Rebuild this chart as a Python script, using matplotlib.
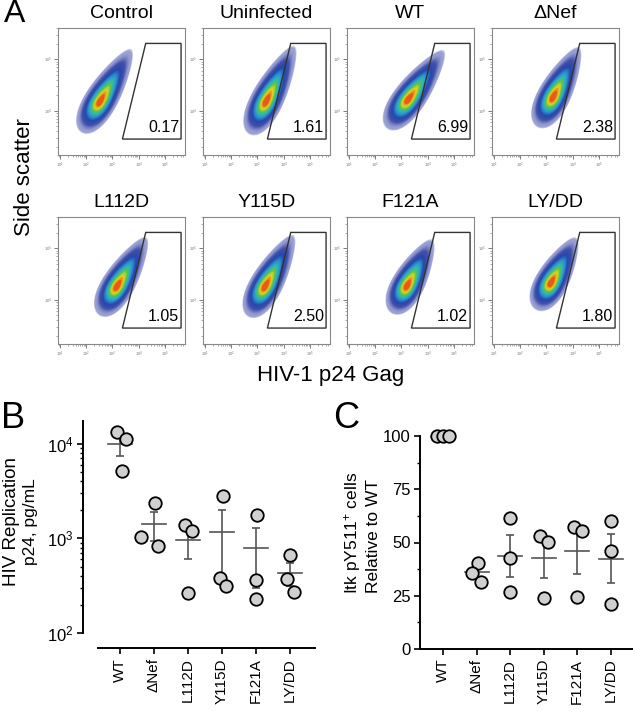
import numpy as np
import matplotlib
matplotlib.use("Agg")
import matplotlib.pyplot as plt
from matplotlib.patches import Polygon
from matplotlib.colors import LinearSegmentedColormap
from matplotlib.ticker import FixedLocator, NullFormatter, LogLocator, MultipleLocator

plt.rcParams['font.family'] = ['Liberation Sans', 'DejaVu Sans']
plt.rcParams['mathtext.default'] = 'regular'

W, H = 633, 716

# ---- panel A: flow cytometry ----
flow_names = ['Control', 'Uninfected', 'WT', '\u0394Nef', 'L112D', 'Y115D', 'F121A', 'LY/DD']
flow_pct = ['0.17', '1.61', '6.99', '2.38', '1.05', '2.50', '1.02', '1.80']
# densest point of each cloud (log10 p24, log10 side scatter)
core_x = [2.50, 3.31, 3.23, 3.23, 3.15, 3.27, 3.19, 3.15]
core_y = [4.16, 4.16, 4.20, 4.24, 4.24, 4.24, 4.25, 4.31]
# upper-right tip of each cloud
tip_x = [3.65, 4.35, 4.54, 4.19, 4.23, 4.31, 4.12, 4.08]
tip_y = [5.14, 5.20, 5.12, 5.18, 5.16, 5.20, 5.12, 5.16]
gate_x = [4.27, 5.62, 5.62, 3.38]
gate_y = [5.31, 5.31, 3.45, 3.45]

# ---- panel B / C ----
groups = ['WT', '\u0394Nef', 'L112D', 'Y115D', 'F121A', 'LY/DD']
p24 = [[13200, 11270, 5180],
       [2390, 1040, 840],
       [1384, 1199, 265],
       [2804, 385, 316],
       [1786, 365, 230],
       [662, 371, 270]]
itk = [[100, 100, 100],
       [40.6, 35.9, 31.4],
       [61.4, 42.9, 26.9],
       [53.2, 50.4, 24.1],
       [57.4, 55.4, 24.6],
       [60.2, 46.1, 21.1]]
spread_b = [[-0.08, 0.18, 0.06], [0.02, -0.37, 0.13], [-0.08, 0.12, 0.01],
            [0.04, -0.06, 0.12], [0.02, 0.0, 0.0], [0.0, -0.08, 0.13]]
spread_c = [[-0.18, 0.0, 0.17], [0.04, -0.13, 0.12], [0.0, 0.0, 0.0],
            [-0.12, 0.12, 0.0], [-0.1, 0.15, 0.0], [0.0, 0.0, 0.0]]

fig = plt.figure(figsize=(W / 100, H / 100), dpi=100)


def box(left, top, w, h):
    return [left / W, 1 - (top + h) / H, w / W, h / H]


flow_left = [[58, 203, 347, 492], [58, 203, 347, 492]]
flow_top = [28, 217]
dens = LinearSegmentedColormap.from_list('dens', [
    (0.0, '#9aa0d4'), (0.12, '#4150a8'), (0.28, '#2646ad'), (0.42, '#2a8ccf'),
    (0.56, '#2fb8b8'), (0.68, '#5cbf48'), (0.8, '#d8e022'), (0.9, '#f08a18'),
    (1.0, '#e02010')])

for i, name in enumerate(flow_names):
    r, c = divmod(i, 4)
    ax = fig.add_axes(box(flow_left[r][c], flow_top[r], 127, 127))
    ax.set_xlim(0.92, 5.77)
    ax.set_ylim(3.14, 5.61)
    for s in ax.spines.values():
        s.set_color('#888888')
        s.set_linewidth(0.8)
    ax.set_xticks([1, 2, 3, 4, 5])
    ax.set_yticks([4, 5])
    minor = [d + np.log10(k) for d in range(0, 6) for k in range(2, 10)]
    ax.xaxis.set_minor_locator(FixedLocator(minor))
    ax.yaxis.set_minor_locator(FixedLocator(minor))
    ax.set_xticklabels(['$10^{%d}$' % d for d in [1, 2, 3, 4, 5]], fontsize=3, color='#777777')
    ax.set_yticklabels(['$10^{4}$', '$10^{5}$'], fontsize=3, color='#777777')
    ax.tick_params(which='major', length=3, width=0.6, color='#666666', pad=1)
    ax.tick_params(which='minor', length=1.5, width=0.5, color='#888888')
    ax.set_title(name, fontsize=14, pad=7.5)

    # density cloud as nested egg shapes, built in display space then mapped back to data
    tr = ax.transData
    core = tr.transform((core_x[i], core_y[i]))
    tip = tr.transform((tip_x[i], tip_y[i]))
    d = tip - core
    L = np.hypot(*d)
    ang = np.arctan2(d[1], d[0])
    u = np.array([np.cos(ang), np.sin(ang)])
    v = np.array([-np.sin(ang), np.cos(ang)])
    c0 = core + 0.22 * d
    th = np.linspace(0, 2 * np.pi, 90)
    taper = 1 - 0.32 * np.cos(th)
    n = 26
    for k in range(n):
        s = 1.08 - k * (1.0 / (n - 1))
        f = s ** 0.6
        cen = core + (c0 - core) * f
        a = 0.78 * L * s ** 0.75
        b = 15.0 * s ** 0.7
        pts = cen + np.outer(a * np.cos(th), u) + np.outer(b * np.sin(th) * taper, v)
        pts = tr.inverted().transform(pts)
        t = min(1.0, max(0.0, 1.0 - s) ** 1.6 * 1.08)
        alpha = 0.6 if k == 0 else 1.0
        ax.add_patch(Polygon(pts, closed=True, facecolor=dens(t), edgecolor='none', alpha=alpha))

    ax.add_patch(Polygon(np.column_stack([gate_x, gate_y]), closed=True, fill=False,
                         edgecolor='#333333', lw=1.0))
    ax.text(5.55, 3.52, flow_pct[i], fontsize=11.5, ha='right', va='bottom')

fig.text(15 / W, 1 - 14 / H, 'A', fontsize=23, ha='center', va='center')
fig.text(25 / W, 1 - 177 / H, 'Side scatter', fontsize=16, rotation=90, ha='center', va='center')
fig.text(331 / W, 1 - 376 / H, 'HIV-1 p24 Gag', fontsize=16, ha='center', va='center')


def dot_panel(ax, values, spread):
    for g, vals in enumerate(values):
        vals = np.array(vals, dtype=float)
        m = vals.mean()
        sem = vals.std(ddof=1) / np.sqrt(len(vals))
        ax.plot([g - 0.36, g + 0.36], [m, m], color='#555555', lw=1.2, zorder=2)
        if sem > 0:
            ax.errorbar(g, m, yerr=sem, color='#555555', lw=1.2, capsize=3, capthick=1.2, zorder=2)
        ax.plot(g + np.array(spread[g]), vals, 'o', ms=9, mfc='#d0d0d0', mec='black',
                mew=1.3, ls='none', zorder=3, clip_on=False)
    ax.set_xticks(range(len(groups)))
    ax.set_xticklabels(groups, fontsize=11)
    ax.spines['top'].set_visible(False)
    ax.spines['right'].set_visible(False)
    for s in ['left', 'bottom']:
        ax.spines[s].set_linewidth(1.4)
    ax.tick_params(axis='x', length=4, width=1.2, pad=3, labelrotation=90)
    ax.tick_params(axis='y', which='major', length=4.5, width=1.2, labelsize=12, pad=2)
    ax.tick_params(axis='y', which='minor', length=2.5, width=1.0)


# ---- panel B ----
axb = fig.add_axes(box(83, 421, 232, 212))
axb.set_yscale('log')
axb.spines['bottom'].set_position(('outward', 11))
dot_panel(axb, p24, spread_b)
axb.set_xlim(-1.09, 5.74)
axb.set_ylim(100, 10 ** 4.24)
axb.yaxis.set_major_locator(LogLocator(base=10, numticks=10))
axb.yaxis.set_minor_locator(LogLocator(base=10, subs=np.arange(2, 10), numticks=10))
axb.yaxis.set_minor_formatter(NullFormatter())
axb.spines['bottom'].set_bounds(-0.65, 5.74)
fig.text(12 / W, 1 - 522 / H, 'HIV Replication', fontsize=13.5, rotation=90, ha='center', va='center')
fig.text(31 / W, 1 - 522 / H, 'p24, pg/mL', fontsize=12.5, rotation=90, ha='center', va='center')
fig.text(0.5 / W, 1 - 418 / H, 'B', fontsize=26, ha='left', va='center')

# ---- panel C ----
axc = fig.add_axes(box(420, 436, 213, 213))
dot_panel(axc, itk, spread_c)
axc.set_xlim(-0.69, 5.67)
axc.set_ylim(0, 100)
axc.yaxis.set_major_locator(MultipleLocator(25))
axc.yaxis.set_minor_locator(MultipleLocator(12.5))
fig.text(353 / W, 1 - 533 / H, 'Itk pY511$^{+}$ cells', fontsize=12.5, rotation=90, ha='center', va='center')
fig.text(374 / W, 1 - 536 / H, 'Relative to WT', fontsize=12.5, rotation=90, ha='center', va='center')
fig.text(346 / W, 1 - 418 / H, 'C', fontsize=26, ha='center', va='center')

fig.savefig('out.png', dpi=100)
